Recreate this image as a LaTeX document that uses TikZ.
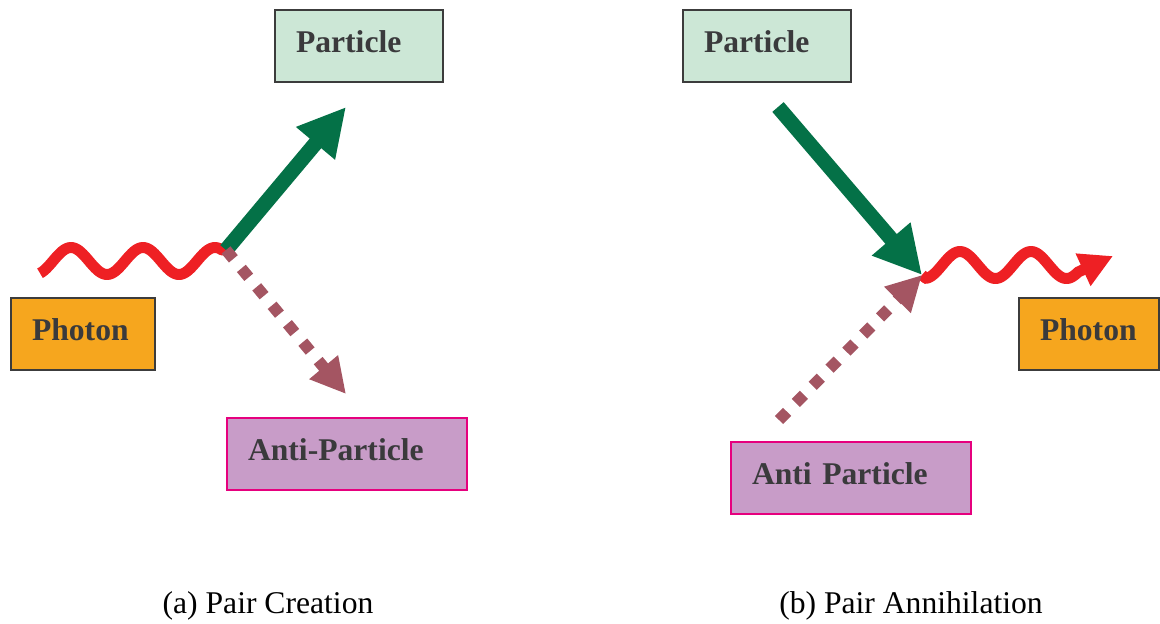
\documentclass[tikz,border=0pt]{standalone}
\usepackage{fontspec}
\setmainfont{Liberation Serif}
\usetikzlibrary{arrows.meta}
\definecolor{boxtext}{HTML}{3A3A3C}
\definecolor{boxline}{HTML}{3C3C3C}
\definecolor{partfill}{HTML}{CCE7D6}
\definecolor{photfill}{HTML}{F6A61E}
\definecolor{antifill}{HTML}{C89CC8}
\definecolor{antiline}{HTML}{E6007E}
\definecolor{partgreen}{HTML}{047147}
\definecolor{photred}{HTML}{EE2024}
\definecolor{antimauve}{HTML}{A45562}

\begin{document}
\begin{tikzpicture}[x=0.02cm, y=-0.02cm,
	every node/.style={font=\fontsize{18}{22}\selectfont},
	lbl/.style={draw=boxline, line width=1.1pt, minimum height=1.44cm, inner xsep=0.42cm, text width=#1, align=left, text height=12pt, text depth=5pt, text=boxtext, font=\fontsize{18}{22}\selectfont\bfseries},
	partbox/.style={lbl=#1, fill=partfill},
	photbox/.style={lbl=#1, fill=photfill},
	antibox/.style={lbl=#1, fill=antifill, draw=antiline},
	partline/.style={draw=partgreen, line width=0.3cm, -{Triangle[length=0.95cm, width=0.95cm]}},
	antiline/.style={draw=antimauve, line width=0.23cm, dash pattern=on 0.23cm off 0.25cm, -{Triangle[length=0.7cm, width=0.7cm]}},
	photline/.style={draw=photred, line width=0.22cm, line join=round}]
	\useasboundingbox (0,0) rectangle (1160,623);

	\node[partbox=2.52cm] (partA) at (359,46) {Particle};
	\node[photbox=2.04cm] (photA) at (83,334) {Photon};
	\node[antibox=3.96cm] (antiA) at (347,454) {Anti-Particle};
	\coordinate (vtxA) at (226,250);
	\coordinate (tipPartA) at (346,107);
	\coordinate (tipAntiA) at (346,394);
	\draw[photline] plot[domain=40:222, samples=90] (\x, {261-13.5*cos((\x-71)/72*360)}) -- (vtxA);
	\draw[partline] (vtxA) -- (tipPartA);
	\draw[antiline] (vtxA) -- (tipAntiA);
	\node[anchor=base] (capA) at (268,613) {(a) Pair Creation};

	\node[partbox=2.52cm] (partB) at (767,46) {Particle};
	\node[photbox=1.96cm] (photB) at (1089,334) {Photon};
	\node[antibox=3.96cm] (antiB) at (851,478) {Anti Particle};
	\coordinate (vtxB) at (922,275);
	\coordinate (srcPartB) at (778,107);
	\coordinate (srcAntiB) at (779,420);
	\coordinate (tipPhotB) at (1113,256);
	\draw[photline, -{Triangle[length=0.66cm, width=0.67cm]}] (vtxB) -- plot[domain=926:1078, samples=80] (\x, {265-13.5*cos((\x-960)/71*360)}) -- (tipPhotB);
	\draw[partline] (srcPartB) -- (vtxB);
	\draw[antiline] (srcAntiB) -- (vtxB);
	\node[anchor=base] (capB) at (911,613) {(b) Pair Annihilation};
\end{tikzpicture}
\end{document}
